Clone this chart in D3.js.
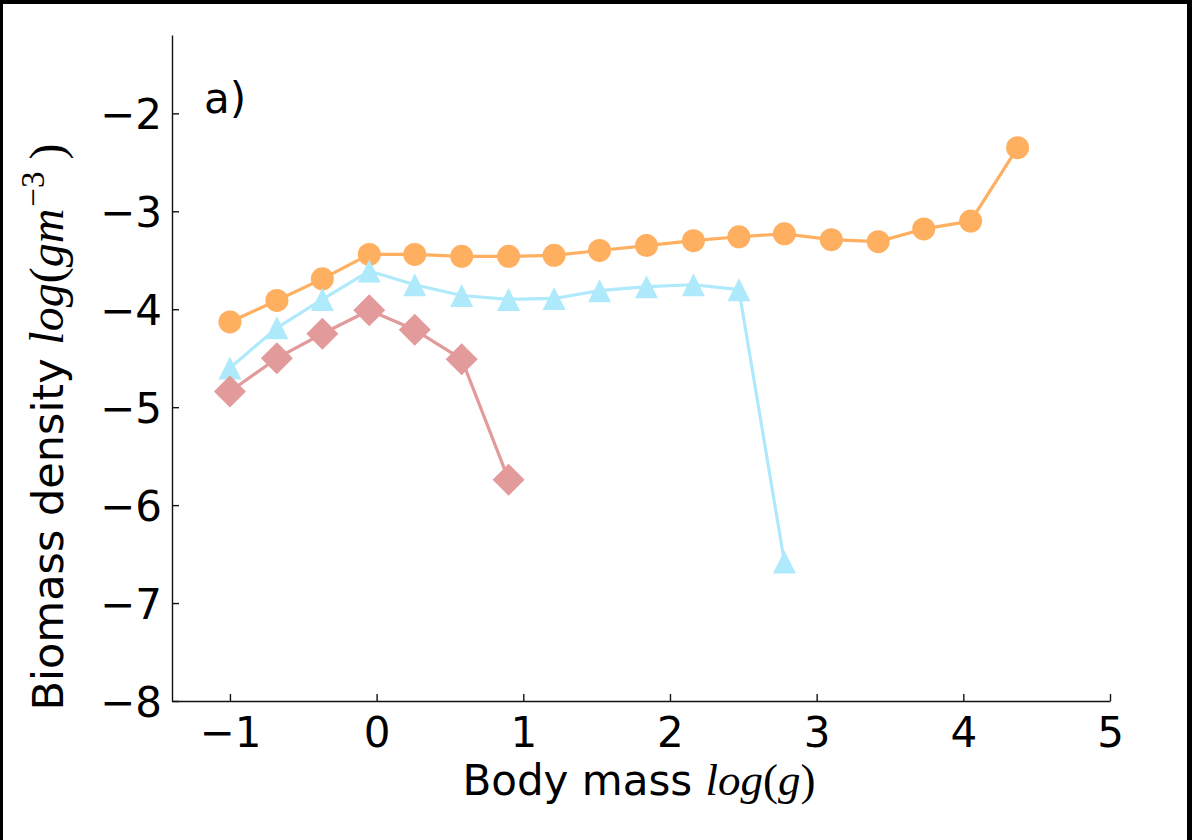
<!DOCTYPE html>
<html>
<head>
<meta charset="utf-8">
<script src="https://cdn.jsdelivr.net/npm/d3@7"></script>
<style>
  html, body { margin: 0; padding: 0; background: #fff; }
  svg { display: block; }
</style>
</head>
<body>
<svg id="chart" width="1192" height="840"></svg>
<script>
// ---- data ----
const xTicks = [-1, 0, 1, 2, 3, 4, 5];
const yTicks = [-8, -7, -6, -5, -4, -3, -2];

const orangeX = [-1.00, -0.68, -0.37, -0.05, 0.26, 0.58, 0.90, 1.21, 1.52, 1.84, 2.16, 2.47, 2.78, 3.10, 3.42, 3.73, 4.05, 4.37];
const orangeY = [-4.13, -3.91, -3.69, -3.44, -3.44, -3.46, -3.46, -3.45, -3.40, -3.35, -3.30, -3.26, -3.23, -3.29, -3.31, -3.18, -3.10, -2.35];

const blueX = [-1.00, -0.68, -0.37, -0.05, 0.26, 0.58, 0.90, 1.21, 1.52, 1.84, 2.16, 2.47, 2.78];
const blueY = [-4.60, -4.19, -3.90, -3.61, -3.75, -3.86, -3.90, -3.89, -3.81, -3.77, -3.75, -3.80, -6.58];

const redX = [-1.00, -0.68, -0.37, -0.05, 0.26, 0.58, 0.90];
const redY = [-4.84, -4.50, -4.25, -4.01, -4.21, -4.51, -5.74];

const seriesList = [
  { xs: orangeX, ys: orangeY, color: "#ffaf60", marker: "circle" },
  { xs: blueX, ys: blueY, color: "#aeeafb", marker: "triangle" },
  { xs: redX, ys: redY, color: "#e39a9a", marker: "diamond" }
];

// ---- layout ----
const svg = d3.select("#chart");
const x = d3.scaleLinear().domain([-1.395, 5]).range([172, 1110]);
const y = d3.scaleLinear().domain([-8, -1.2]).range([701, 35]);
const font = "'DejaVu Sans', sans-serif";
const mathFont = "'Liberation Serif', 'DejaVu Serif', serif";

// frame border
svg.append("rect").attr("x", 0).attr("y", 0).attr("width", 1192).attr("height", 4).attr("fill", "#000");
svg.append("rect").attr("x", 0).attr("y", 0).attr("width", 3).attr("height", 840).attr("fill", "#000");
svg.append("rect").attr("x", 1187).attr("y", 0).attr("width", 5).attr("height", 840).attr("fill", "#000");

// axes
const xAxis = d3.axisBottom(x).tickValues(xTicks).tickSizeInner(-7).tickSizeOuter(0)
  .tickPadding(16).tickFormat(d => d < 0 ? "\u2212" + Math.abs(d) : d);
const gx = svg.append("g").attr("transform", "translate(0,701)").call(xAxis);
gx.select(".domain").attr("stroke", "#111").attr("stroke-width", 1.4);
gx.selectAll(".tick line").attr("stroke", "#111").attr("stroke-width", 1.4);
gx.selectAll(".tick text").attr("font-family", font).attr("font-size", 42).attr("fill", "#000")
  .attr("dy", "0.71em");

const yAxis = d3.axisLeft(y).tickValues(yTicks).tickSizeInner(-7).tickSizeOuter(0)
  .tickPadding(10).tickFormat(d => d < 0 ? "\u2212" + Math.abs(d) : d);
const gy = svg.append("g").attr("transform", "translate(172,0)").call(yAxis);
gy.select(".domain").attr("stroke", "#111").attr("stroke-width", 1.4);
gy.selectAll(".tick line").attr("stroke", "#111").attr("stroke-width", 1.4);
gy.selectAll(".tick text").attr("font-family", font).attr("font-size", 42).attr("fill", "#000")
  .attr("dy", "0.36em");

// series
const trianglePath = "M0,-11.5L11.5,11.5L-11.5,11.5Z";
const diamondPath = "M0,-16L16,0L0,16L-16,0Z";
const line = d3.line().x(d => x(d[0])).y(d => y(d[1]));

seriesList.forEach(s => {
  const pts = s.xs.map((v, i) => [v, s.ys[i]]);
  const g = svg.append("g");
  g.append("path").attr("d", line(pts)).attr("fill", "none")
    .attr("stroke", s.color).attr("stroke-width", 3.2).attr("stroke-linejoin", "round");
  if (s.marker === "circle") {
    g.selectAll("circle").data(pts).join("circle")
      .attr("cx", d => x(d[0])).attr("cy", d => y(d[1])).attr("r", 11.5).attr("fill", s.color);
  } else {
    g.selectAll("path.m").data(pts).join("path").attr("class", "m")
      .attr("d", s.marker === "triangle" ? trianglePath : diamondPath)
      .attr("transform", d => `translate(${x(d[0])},${y(d[1])})`)
      .attr("fill", s.color);
  }
});

// panel label
svg.append("text").attr("x", 204).attr("y", 113).attr("font-family", font)
  .attr("font-size", 42).attr("fill", "#000").text("a)");

// x label
const xl = svg.append("text").attr("x", 639).attr("y", 795).attr("text-anchor", "middle")
  .attr("font-family", font).attr("font-size", 42).attr("fill", "#000");
xl.append("tspan").text("Body mass ");
xl.append("tspan").attr("font-family", mathFont).attr("font-style", "italic").attr("font-size", 45).text("log");
xl.append("tspan").attr("font-family", mathFont).attr("font-size", 45).text("(");
xl.append("tspan").attr("font-family", mathFont).attr("font-style", "italic").attr("font-size", 45).text("g");
xl.append("tspan").attr("font-family", mathFont).attr("font-size", 45).text(")");

// y label
const yl = svg.append("text").attr("transform", "translate(63,427) rotate(-90)")
  .attr("text-anchor", "middle").attr("font-family", font).attr("font-size", 43).attr("fill", "#000");
yl.append("tspan").text("Biomass density ");
yl.append("tspan").attr("font-family", mathFont).attr("font-style", "italic").attr("font-size", 48).text("log");
yl.append("tspan").attr("font-family", mathFont).attr("font-size", 48).text("(");
yl.append("tspan").attr("font-family", mathFont).attr("font-style", "italic").attr("font-size", 48).text("gm");
yl.append("tspan").attr("font-family", mathFont).attr("font-size", 33).attr("dy", -19).attr("dx", 2).text("\u22123");
yl.append("tspan").attr("font-family", mathFont).attr("font-size", 48).attr("dy", 19).attr("dx", 12).text(")");
</script>
</body>
</html>
